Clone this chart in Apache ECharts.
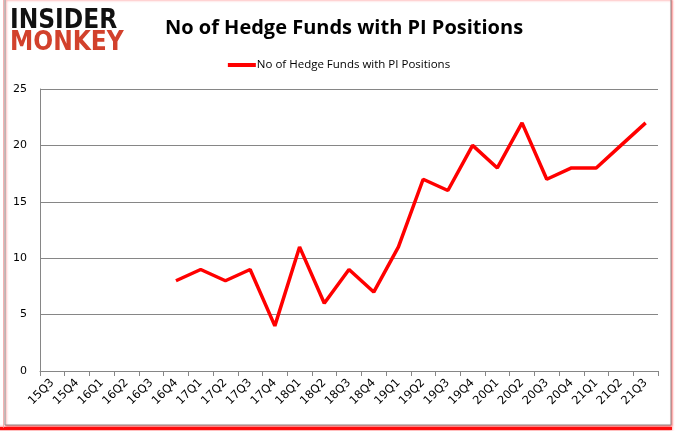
<!DOCTYPE html>
<html><head><meta charset="utf-8">
<script src="https://cdn.jsdelivr.net/npm/echarts@6/dist/echarts.min.js"></script>
<style>html,body{margin:0;padding:0;background:#fff;}#c{width:678px;height:431px;}</style>
</head><body><div id="c"></div>
<script>
const categories = ['15Q3','15Q4','16Q1','16Q2','16Q3','16Q4','17Q1','17Q2','17Q3','17Q4','18Q1','18Q2','18Q3','18Q4','19Q1','19Q2','19Q3','19Q4','20Q1','20Q2','20Q3','20Q4','21Q1','21Q2','21Q3'];
const hedgeFunds = [null,null,null,null,null,8,9,8,9,4,11,6,9,7,11,17,16,20,18,22,17,18,18,20,22];
const seriesName = 'No of Hedge Funds with PI Positions';
const titleText = 'No of Hedge Funds with PI Positions';

const chart = echarts.init(document.getElementById('c'), null, {renderer:'canvas'});
chart.setOption({
  animation:false,
  backgroundColor:'#fff',
  graphic:[
    {type:'rect', z:-10, shape:{x:-2,y:427,width:674,height:3}, style:{fill:'rgba(255,0,0,0.9)',shadowBlur:3,shadowColor:'rgba(255,0,0,0.8)'}},
    {type:'rect', z:-10, shape:{x:3,y:-2,width:1,height:430}, style:{fill:'rgba(240,150,150,0.7)'}},
    {type:'rect', z:-9, shape:{x:5,y:-1,width:666,height:426}, style:{fill:'#fff',stroke:'#8c8c8c',lineWidth:1,shadowBlur:2,shadowColor:'rgba(255,0,0,0.5)',shadowOffsetX:1,shadowOffsetY:1}},
    {type:'text', left:10, top:8, style:{text:'INSIDER', font:'bold 26px "DejaVu Sans Condensed", "DejaVu Sans"', fill:'#111'}},
    {type:'text', left:10, top:30, style:{text:'MONKEY', font:'bold 26px "DejaVu Sans Condensed", "DejaVu Sans"', fill:'#d2412c'}}
  ],
  title:{text:titleText, left:339, top:13, textAlign:'center', textStyle:{fontFamily:'Open Sans', fontWeight:'bold', fontSize:20, color:'#000'}},
  legend:{top:54, left:'center', itemWidth:28, itemHeight:4, icon:'rect', itemGap:0, textStyle:{fontFamily:'Open Sans', fontSize:11.5, color:'#000', padding:[0,0,0,-4]}, data:[seriesName]},
  grid:{left:40, right:20, top:89, bottom:60, containLabel:false},
  xAxis:{type:'category', data:categories, boundaryGap:true,
    axisLine:{lineStyle:{color:'#868686'}}, axisTick:{show:true, alignWithLabel:false, length:5, lineStyle:{color:'#868686'}},
    axisLabel:{rotate:45, interval:0, fontFamily:'DejaVu Sans', fontSize:11.5, color:'#000', margin:10}},
  yAxis:{type:'value', min:0, max:25, interval:5,
    axisLine:{show:true, lineStyle:{color:'#868686'}}, axisTick:{show:false},
    splitLine:{lineStyle:{color:'#868686'}},
    axisLabel:{fontFamily:'DejaVu Sans', fontSize:11, color:'#000', margin:13}},
  series:[{name:seriesName, type:'line', data:hedgeFunds, showSymbol:false, connectNulls:false,
    lineStyle:{color:'#ff0000', width:3.5}, itemStyle:{color:'#ff0000'}}]
});
</script></body></html>
